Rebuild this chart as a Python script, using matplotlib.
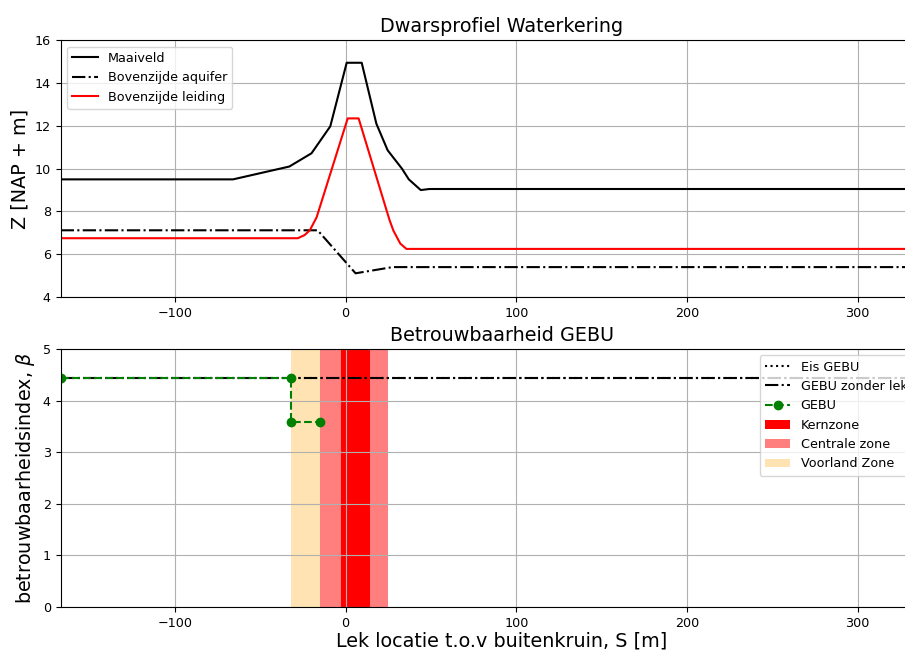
import matplotlib
matplotlib.use("Agg")
import matplotlib.pyplot as plt

# Dwarsprofiel (afstand t.o.v. buitenkruin [m], hoogte [m NAP])
x_maaiveld = [-167, -66, -33, -20, -9, 0.6, 9.4, 18, 24.6, 33, 37, 44, 49, 350]
z_maaiveld = [9.5, 9.5, 10.1, 10.72, 11.98, 14.95, 14.95, 12.1, 10.86, 10.0, 9.5, 9.0, 9.05, 9.05]

x_aquifer = [-167, -16.4, 5.8, 27.5, 350]
z_aquifer = [7.12, 7.12, 5.11, 5.4, 5.4]

x_leiding = [-167, -28, -24, -21, -17, 1.2, 7.6, 25.7, 28, 30, 32, 35.6, 350]
z_leiding = [6.75, 6.75, 6.9, 7.12, 7.73, 12.35, 12.35, 7.6, 7.1, 6.8, 6.5, 6.25, 6.25]

# Betrouwbaarheid
beta_eis = 4.43
beta_zonder_lek = 4.43
x_gebu = [-167, -32, -32, -15]
beta_gebu = [4.43, 4.43, 3.59, 3.59]

kernzone = (-3, 14)
centrale_zone = (-15, 25)
voorland_zone = (-32, -15)

xlim = (-167, 350)

plt.rcParams['font.size'] = 9.2

fig = plt.figure(figsize=(9.05, 6.5), dpi=100)
ax1 = fig.add_axes([0.067, 0.543, 0.975, 0.395])
ax2 = fig.add_axes([0.067, 0.066, 0.975, 0.397])

ax1.plot(x_maaiveld, z_maaiveld, color='k', label='Maaiveld')
ax1.plot(x_aquifer, z_aquifer, color='k', linestyle='-.', label='Bovenzijde aquifer')
ax1.plot(x_leiding, z_leiding, color='r', label='Bovenzijde leiding')
ax1.set_xlim(xlim)
ax1.set_ylim(4, 16)
ax1.set_title('Dwarsprofiel Waterkering', fontsize=13.8)
ax1.set_ylabel('Z [NAP + m]', fontsize=13.8)
ax1.grid(True)
ax1.legend(loc='upper left')

ax2.axhline(beta_eis, color='k', linestyle=':', label='Eis GEBU')
ax2.axhline(beta_zonder_lek, color='k', linestyle='-.', label='GEBU zonder lekkage')
ax2.plot(x_gebu, beta_gebu, color='g', linestyle='--', marker='o', label='GEBU')
ax2.axvspan(*kernzone, color='red', lw=0, label='Kernzone')
ax2.axvspan(*centrale_zone, color='red', alpha=0.5, lw=0, label='Centrale zone', zorder=0.9)
ax2.axvspan(*voorland_zone, color='orange', alpha=0.3, lw=0, label='Voorland Zone', zorder=0.9)
ax2.set_xlim(xlim)
ax2.set_ylim(0, 5)
ax2.set_title('Betrouwbaarheid GEBU', fontsize=13.8)
ax2.set_xlabel('Lek locatie t.o.v buitenkruin, S [m]', fontsize=13.8, labelpad=1)
ax2.set_ylabel(r'betrouwbaarheidsindex, $\beta$', fontsize=13.8)
ax2.grid(True)
ax2.legend(loc='upper left', bbox_to_anchor=(0.785, 1.0))

fig.savefig('out.png', dpi=100)
